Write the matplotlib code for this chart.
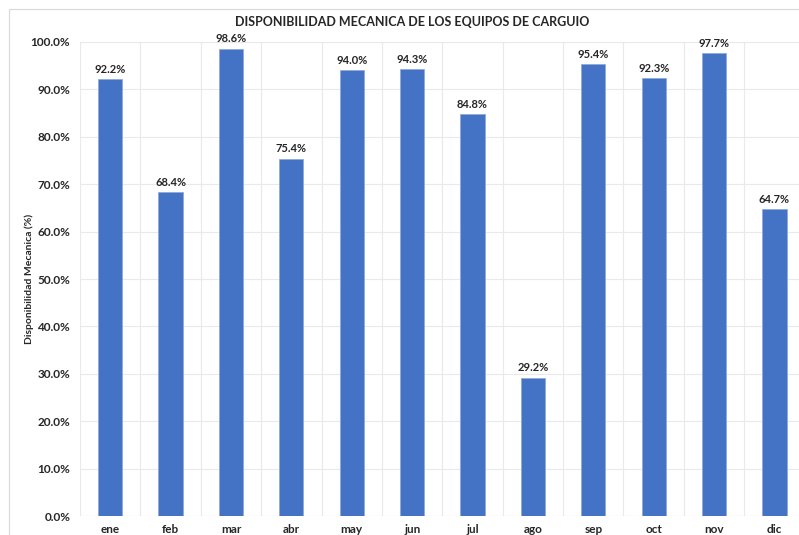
import numpy as np
import matplotlib.pyplot as plt
from matplotlib.patches import Rectangle
from matplotlib.ticker import PercentFormatter

plt.rcParams['font.family'] = ['Lato', 'DejaVu Sans']

meses = ["ene", "feb", "mar", "abr", "may", "jun", "jul", "ago", "sep", "oct", "nov", "dic"]
disponibilidad = [92.2, 68.4, 98.6, 75.4, 94.0, 94.3, 84.8, 29.2, 95.4, 92.3, 97.7, 64.7]

fig = plt.figure(figsize=(7.99, 5.35), dpi=100)
ax = fig.add_axes([0.1001, 0.0355, 0.907, 0.886])

xpos = np.arange(len(meses))
ax.bar(xpos, disponibilidad, width=0.4, color="#4472C4", edgecolor="#8FAADC", linewidth=0.6, zorder=3)

for x, v in zip(xpos, disponibilidad):
    ax.text(x, v + 0.9, "{:.1f}%".format(v), ha="center", va="bottom",
            fontsize=8, fontweight="bold", color="#262626")

ax.set_xlim(-0.5, len(meses) - 0.5)
ax.set_ylim(0, 100)
ax.set_yticks(np.arange(0, 101, 10))
ax.yaxis.set_major_formatter(PercentFormatter(decimals=1))
ax.set_xticks(xpos)
ax.set_xticklabels(meses)
ax.set_xticks(np.arange(-0.5, len(meses), 1), minor=True)

ax.grid(True, axis="y", which="major", color="#e9e9e9", linewidth=0.8, zorder=0)
ax.grid(True, axis="x", which="minor", color="#e9e9e9", linewidth=0.8, zorder=0)
ax.tick_params(axis="both", which="both", length=0)
ax.tick_params(axis="y", pad=7)
ax.tick_params(axis="x", pad=6)
for lab in ax.get_xticklabels() + ax.get_yticklabels():
    lab.set_fontweight("bold")
    lab.set_fontsize(8.5)
    lab.set_color("#262626")
for s in ax.spines.values():
    s.set_visible(False)
ax.axhline(0, color="#d9d9d9", linewidth=0.8, zorder=2)

ax.set_ylabel("Disponibilidad Mecanica (%)", fontsize=7.5, fontweight="bold", color="#262626")
ax.yaxis.set_label_coords(-0.064, 0.5)
fig.text(0.516, 0.959, "DISPONIBILIDAD MECANICA DE LOS EQUIPOS DE CARGUIO",
         ha="center", va="center", fontsize=9, fontweight="bold", color="#262626")

fig.patches.append(Rectangle((9 / 799, -0.1), 1.0, 1.1 - 9 / 535, transform=fig.transFigure,
                             fill=False, edgecolor="#d9d9d9", linewidth=0.8))

fig.savefig("out.png", dpi=100)
